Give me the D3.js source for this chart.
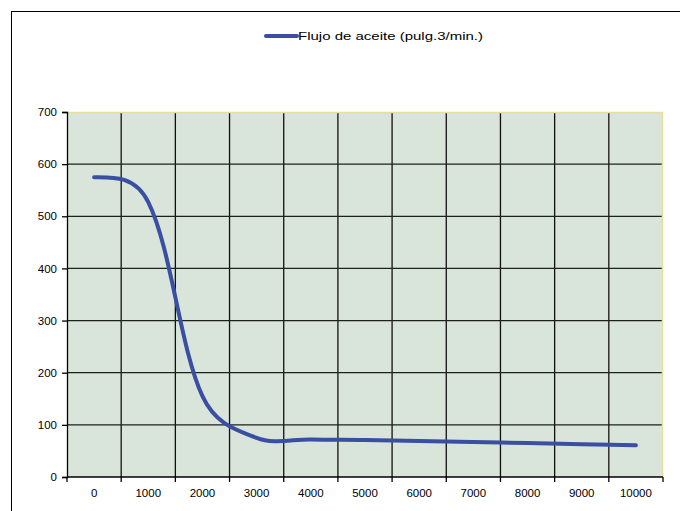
<!DOCTYPE html>
<html>
<head>
<meta charset="utf-8">
<script src="https://cdn.jsdelivr.net/npm/d3@7"></script>
<style>
  body { margin: 0; background: #fff; }
  svg text { font-family: "Liberation Sans", Arial, sans-serif; fill: #000; }
</style>
</head>
<body>
<script>
//chart data
var rpm = ["0", "1000", "2000", "3000", "4000", "5000", "6000", "7000", "8000", "9000", "10000"];
var flujo = [575, 527, 155, 75, 72, 71, 69, 67, 65, 63, 61];
var yTicks = [0, 100, 200, 300, 400, 500, 600, 700];
var seriesName = "Flujo de aceite (pulg.3/min.)";

//frame dimensions
var width = 680,
    height = 511;

var plot = {left: 67, top: 112, right: 663, bottom: 477};

//spreadsheet-style smoothing: bezier segments, tangents scaled by chord length
function smoothCurve(context){
    var pts;
    function dist(a, b){ return Math.hypot(b[0] - a[0], b[1] - a[1]); }
    return {
        areaStart: function(){},
        areaEnd: function(){},
        lineStart: function(){ pts = []; },
        point: function(x, y){ pts.push([+x, +y]); },
        lineEnd: function(){
            var n = pts.length;
            if (!n) return;
            context.moveTo(pts[0][0], pts[0][1]);
            if (n < 3){
                if (n === 2) context.lineTo(pts[1][0], pts[1][1]);
                return;
            }
            var cin = [], cout = [];
            for (var i = 1; i < n - 1; i++){
                var p0 = pts[i - 1], p1 = pts[i], p2 = pts[i + 1];
                var a = Math.sqrt(dist(p0, p1)), b = Math.sqrt(dist(p1, p2));
                var tx = (p2[0] - p0[0]) / 6, ty = (p2[1] - p0[1]) / 6;
                var kin = 2 * a / (a + b), kout = 2 * b / (a + b);
                cin[i] = [p1[0] - tx * kin, p1[1] - ty * kin];
                cout[i] = [p1[0] + tx * kout, p1[1] + ty * kout];
            }
            //natural ends
            cout[0] = [(pts[0][0] + cin[1][0]) / 2, (pts[0][1] + cin[1][1]) / 2];
            cin[n - 1] = [(pts[n - 1][0] + cout[n - 2][0]) / 2, (pts[n - 1][1] + cout[n - 2][1]) / 2];
            for (var j = 1; j < n; j++){
                context.bezierCurveTo(cout[j - 1][0], cout[j - 1][1], cin[j][0], cin[j][1], pts[j][0], pts[j][1]);
            }
        }
    };
}

var svg = d3.select("body")
    .append("svg")
    .attr("width", width)
    .attr("height", height);

//outer chart border (runs off the right and bottom of the picture)
svg.append("rect")
    .attr("x", 11.5)
    .attr("y", 11.5)
    .attr("width", 700)
    .attr("height", 600)
    .attr("fill", "none")
    .attr("stroke", "#000")
    .attr("stroke-width", 1);

//scales
var x = d3.scaleBand()
    .domain(rpm)
    .range([plot.left, plot.right]);

var y = d3.scaleLinear()
    .domain([0, 700])
    .range([plot.bottom, plot.top]);

//plot background
svg.append("rect")
    .attr("x", plot.left)
    .attr("y", plot.top)
    .attr("width", plot.right - plot.left)
    .attr("height", plot.bottom - plot.top)
    .attr("fill", "#d9e4da");

//vertical gridlines between categories
svg.selectAll(".vgrid")
    .data(rpm.slice(1))
    .enter()
    .append("line")
    .attr("class", "vgrid")
    .attr("x1", function(d){ return x(d); })
    .attr("x2", function(d){ return x(d); })
    .attr("y1", plot.top)
    .attr("y2", plot.bottom)
    .attr("stroke", "#111")
    .attr("stroke-width", 1.3);

//horizontal gridlines
svg.selectAll(".hgrid")
    .data(yTicks.slice(1, -1))
    .enter()
    .append("line")
    .attr("class", "hgrid")
    .attr("x1", plot.left)
    .attr("x2", plot.right)
    .attr("y1", function(d){ return y(d); })
    .attr("y2", function(d){ return y(d); })
    .attr("stroke", "#1c211c")
    .attr("stroke-width", 1.3);

//gold top and right edges of the plot area
svg.append("path")
    .attr("d", "M" + plot.left + "," + (plot.top + 0.5) + "H" + (plot.right - 0.5) + "V" + plot.bottom)
    .attr("fill", "none")
    .attr("stroke", "#e8df9a")
    .attr("stroke-width", 1.5);

//y axis
var yAxis = d3.axisLeft(y)
    .tickValues(yTicks)
    .tickSize(5)
    .tickPadding(5);

var gy = svg.append("g")
    .attr("transform", "translate(" + plot.left + ",0)")
    .call(yAxis);
gy.select(".domain").attr("stroke", "#000").attr("stroke-width", 1.3);
gy.selectAll(".tick line").attr("stroke", "#000").attr("stroke-width", 1.3);
gy.selectAll("text").style("font-size", "11.5px").attr("fill", "#000");

//x axis, tick marks at category boundaries
var gx = svg.append("g")
    .attr("transform", "translate(0," + plot.bottom + ")");

gx.append("line")
    .attr("x1", plot.left)
    .attr("x2", plot.right)
    .attr("stroke", "#000")
    .attr("stroke-width", 1.3);

gx.selectAll(".xtick")
    .data(rpm.concat(["end"]))
    .enter()
    .append("line")
    .attr("class", "xtick")
    .attr("x1", function(d, i){ return plot.left + i * x.step(); })
    .attr("x2", function(d, i){ return plot.left + i * x.step(); })
    .attr("y1", 0)
    .attr("y2", 5)
    .attr("stroke", "#000")
    .attr("stroke-width", 1.3);

gx.selectAll(".xlabel")
    .data(rpm)
    .enter()
    .append("text")
    .attr("class", "xlabel")
    .attr("x", function(d){ return x(d) + x.bandwidth() / 2; })
    .attr("y", 19.5)
    .attr("text-anchor", "middle")
    .style("font-size", "11.5px")
    .text(function(d){ return d; });

//smoothed series line
var line = d3.line()
    .x(function(d, i){ return x(rpm[i]) + x.bandwidth() / 2; })
    .y(function(d){ return y(d); })
    .curve(smoothCurve);

svg.append("path")
    .datum(flujo)
    .attr("d", line)
    .attr("fill", "none")
    .attr("stroke", "#3a4ea2")
    .attr("stroke-width", 4)
    .attr("stroke-linecap", "round");

//legend
var legend = svg.append("g")
    .attr("transform", "translate(266,36)");

legend.append("line")
    .attr("x1", 0)
    .attr("x2", 31)
    .attr("stroke", "#3a4ea2")
    .attr("stroke-width", 4)
    .attr("stroke-linecap", "round");

legend.append("text")
    .attr("x", 32)
    .attr("y", 4)
    .attr("textLength", 185)
    .attr("lengthAdjust", "spacingAndGlyphs")
    .style("font-size", "11.5px")
    .text(seriesName);
</script>
</body>
</html>
